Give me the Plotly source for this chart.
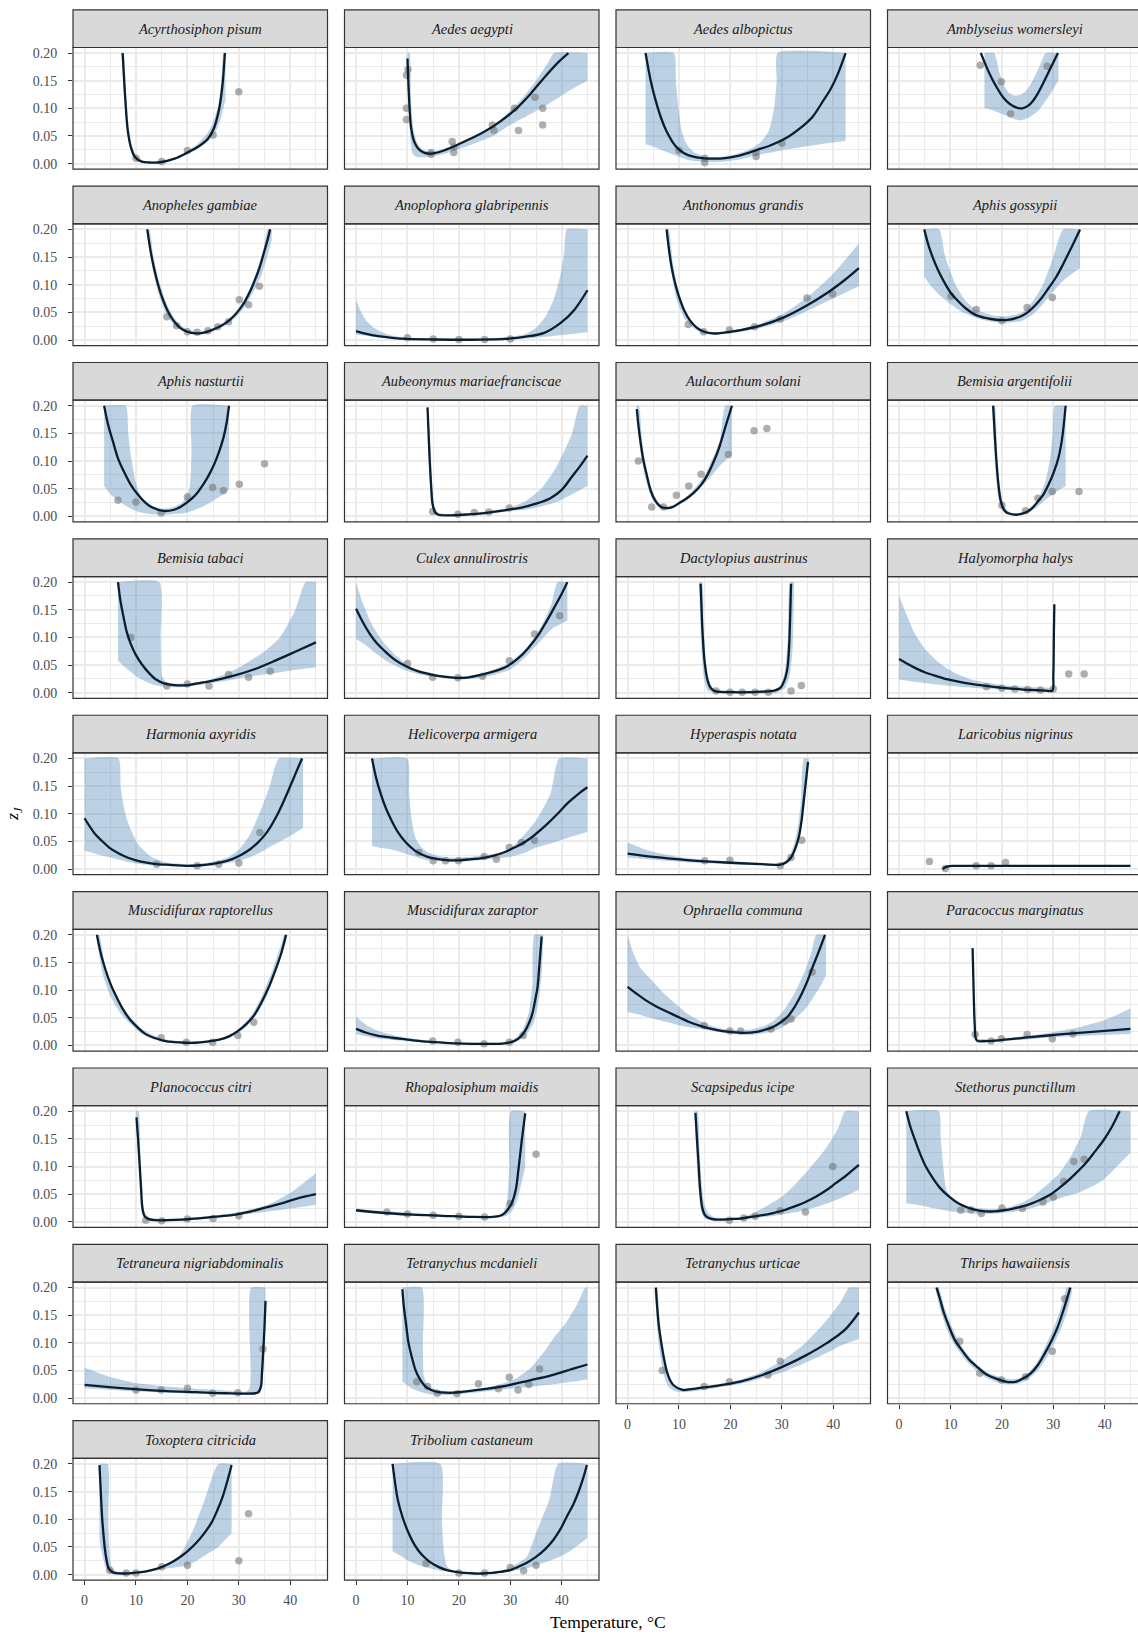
import plotly.graph_objects as go

# ---------------------------------------------------------------
# Species shown, one facet each (facet order = list order)
# ---------------------------------------------------------------
SPECIES = [
    "Acyrthosiphon pisum", "Aedes aegypti", "Aedes albopictus", "Amblyseius womersleyi",
    "Anopheles gambiae", "Anoplophora glabripennis", "Anthonomus grandis", "Aphis gossypii",
    "Aphis nasturtii", "Aubeonymus mariaefranciscae", "Aulacorthum solani", "Bemisia argentifolii",
    "Bemisia tabaci", "Culex annulirostris", "Dactylopius austrinus", "Halyomorpha halys",
    "Harmonia axyridis", "Helicoverpa armigera", "Hyperaspis notata", "Laricobius nigrinus",
    "Muscidifurax raptorellus", "Muscidifurax zaraptor", "Ophraella communa", "Paracoccus marginatus",
    "Planococcus citri", "Rhopalosiphum maidis", "Scapsipedus icipe", "Stethorus punctillum",
    "Tetraneura nigriabdominalis", "Tetranychus mcdanieli", "Tetranychus urticae", "Thrips hawaiiensis",
    "Toxoptera citricida", "Tribolium castaneum",
]

# Fitted z_J curve per species: (temperature, z_J), truncated at 0.2
CURVE = {
    "Acyrthosiphon pisum": [(7.4,0.2),(7.9,0.12),(8.4,0.06),(9.0,0.03),(9.8,0.012),(11,0.004),(13,0.002),(15,0.003),(17.5,0.009),(20,0.02),(22,0.03),(24,0.045),(25.2,0.065),(26.2,0.1),(26.8,0.14),(27.3,0.2)],
    "Aedes aegypti": [(10.0,0.19),(10.3,0.12),(10.7,0.065),(11.3,0.04),(12.1,0.027),(13.2,0.02),(14.5,0.018),(16.5,0.022),(19,0.031),(22,0.044),(25,0.058),(28,0.076),(31,0.098),(34,0.127),(37,0.16),(39.5,0.185),(41.3,0.2)],
    "Aedes albopictus": [(3.5,0.2),(4.5,0.15),(5.5,0.113),(6.5,0.083),(7.6,0.058),(8.7,0.04),(9.7,0.028),(11,0.019),(12.6,0.013),(14.5,0.01),(16.8,0.009),(19,0.01),(21,0.013),(23,0.018),(25.2,0.025),(27.5,0.032),(29.5,0.04),(31.5,0.05),(33.7,0.065),(36,0.085),(38,0.113),(39.5,0.135),(40.8,0.16),(42.4,0.2)],
    "Amblyseius womersleyi": [(15.9,0.2),(17,0.175),(18,0.155),(19,0.138),(20,0.123),(21,0.112),(22,0.105),(23,0.101),(24,0.1),(25,0.104),(26,0.113),(27,0.127),(28,0.145),(29,0.164),(30,0.183),(30.9,0.2)],
    "Anopheles gambiae": [(12.2,0.2),(12.8,0.163),(13.5,0.13),(14.3,0.1),(15.2,0.074),(16.2,0.052),(17.3,0.035),(18.6,0.022),(20,0.015),(21.6,0.012),(23,0.013),(24.5,0.017),(26,0.023),(27.5,0.031),(29,0.043),(30.1,0.055),(31.2,0.07),(32.2,0.088),(33.2,0.11),(34,0.13),(34.8,0.155),(35.5,0.178),(36.1,0.2)],
    "Anoplophora glabripennis": [(0,0.016),(2,0.011),(4.3,0.007),(7,0.004),(10,0.002),(15,0.001),(22,0.0005),(29,0.002),(33,0.006),(36.6,0.013),(39.8,0.031),(42.4,0.054),(45,0.09)],
    "Anthonomus grandis": [(7.6,0.2),(8.1,0.16),(8.7,0.125),(9.4,0.097),(10.2,0.073),(11.1,0.052),(12.1,0.036),(13.5,0.022),(14.9,0.015),(16.5,0.012),(17.7,0.012),(20,0.015),(22,0.018),(26.2,0.027),(30.4,0.041),(34.6,0.061),(38.8,0.085),(42.3,0.109),(45,0.13)],
    "Aphis gossypii": [(4.9,0.2),(5.7,0.172),(6.6,0.148),(7.6,0.126),(8.7,0.106),(10,0.086),(11.5,0.07),(13,0.057),(15,0.045),(17.9,0.038),(20.7,0.036),(23.5,0.042),(25,0.05),(26.3,0.061),(27.8,0.077),(29.1,0.094),(30.5,0.113),(31.9,0.137),(33.5,0.167),(35.2,0.2)],
    "Aphis nasturtii": [(3.8,0.2),(4.6,0.165),(5.5,0.136),(6.5,0.105),(7.6,0.082),(9,0.057),(10.4,0.039),(11.8,0.025),(13.2,0.016),(15.3,0.01),(17.4,0.012),(18.8,0.018),(20.2,0.027),(21.7,0.04),(23.1,0.058),(24.2,0.075),(25.2,0.094),(26.2,0.118),(27,0.142),(27.6,0.168),(28.1,0.2)],
    "Aubeonymus mariaefranciscae": [(13.9,0.197),(14.1,0.15),(14.3,0.106),(14.6,0.055),(14.9,0.021),(15.4,0.007),(16,0.003),(18,0.002),(21,0.003),(24,0.005),(26.6,0.008),(29.5,0.012),(32.2,0.016),(35,0.023),(37.8,0.033),(40,0.048),(42,0.072),(43.5,0.09),(45,0.11)],
    "Aulacorthum solani": [(1.8,0.194),(2.1,0.165),(2.5,0.136),(3.0,0.105),(3.7,0.076),(4.4,0.05),(5.1,0.033),(6.5,0.017),(7.9,0.015),(9,0.018),(10,0.024),(11.4,0.032),(12.8,0.042),(14.3,0.057),(15.6,0.076),(16.8,0.1),(17.8,0.124),(18.5,0.145),(19.2,0.167),(20.3,0.2)],
    "Bemisia argentifolii": [(18.3,0.2),(18.6,0.15),(18.9,0.106),(19.3,0.06),(19.8,0.027),(20.4,0.012),(21.1,0.006),(22.8,0.003),(24,0.005),(25,0.009),(26,0.016),(27,0.027),(28.1,0.04),(29.1,0.058),(30.1,0.08),(31,0.106),(31.7,0.14),(32.4,0.2)],
    "Bemisia tabaci": [(6.5,0.2),(7,0.165),(7.6,0.136),(8.2,0.11),(9,0.088),(10,0.068),(11.1,0.052),(12.5,0.036),(13.9,0.024),(15.5,0.017),(17.4,0.014),(20.2,0.014),(22,0.017),(24.5,0.021),(28.7,0.03),(32.9,0.042),(37.1,0.058),(41.4,0.076),(45,0.091)],
    "Culex annulirostris": [(0,0.152),(1.3,0.128),(2.7,0.106),(4,0.09),(5.5,0.076),(7.5,0.06),(9.7,0.048),(12,0.039),(14.6,0.033),(17,0.029),(19.5,0.027),(22,0.028),(24.5,0.033),(27,0.039),(29.4,0.048),(31.5,0.062),(33.6,0.082),(35.5,0.105),(37.1,0.13),(38.6,0.155),(40,0.179),(41.1,0.2)],
    "Dactylopius austrinus": [(14.2,0.197),(14.4,0.15),(14.6,0.106),(15.0,0.055),(15.6,0.021),(16.2,0.008),(17,0.003),(20.5,0.001),(26.2,0.002),(28.5,0.004),(29.7,0.009),(30.5,0.022),(31.1,0.045),(31.4,0.08),(31.6,0.13),(31.8,0.197)],
    "Halyomorpha halys": [(0,0.061),(1.5,0.053),(3.1,0.045),(5,0.037),(7.3,0.03),(9.5,0.024),(11.5,0.02),(14,0.016),(17.2,0.012),(20,0.009),(22.8,0.007),(25.5,0.005),(28.4,0.004),(29.8,0.004),(30.0,0.03),(30.1,0.1),(30.2,0.16)],
    "Harmonia axyridis": [(0,0.092),(2,0.064),(3.5,0.05),(4.8,0.039),(6.5,0.029),(8.3,0.021),(10,0.016),(11.8,0.012),(14,0.009),(16,0.008),(20.2,0.006),(22.5,0.007),(24.5,0.009),(26.5,0.012),(28.7,0.018),(30.5,0.026),(32.2,0.036),(33.7,0.048),(35,0.061),(36.2,0.077),(37.3,0.095),(38.4,0.116),(39.5,0.139),(40.6,0.163),(41.6,0.185),(42.3,0.2)],
    "Helicoverpa armigera": [(3.1,0.2),(3.9,0.165),(4.8,0.136),(5.8,0.11),(6.9,0.088),(8.2,0.066),(9.7,0.048),(11.5,0.033),(13.9,0.022),(16,0.018),(18.1,0.016),(20,0.016),(22.4,0.018),(24.5,0.02),(26.6,0.024),(28.7,0.03),(30.8,0.039),(33,0.05),(35,0.064),(37,0.08),(39.2,0.1),(41,0.118),(42.1,0.127),(43.5,0.138),(45,0.148)],
    "Hyperaspis notata": [(0,0.028),(5,0.022),(12.1,0.016),(19.1,0.012),(26.2,0.009),(29.7,0.008),(30.8,0.012),(31.8,0.021),(32.6,0.037),(33.3,0.058),(33.8,0.085),(34.2,0.118),(34.7,0.16),(35.1,0.194)],
    "Laricobius nigrinus": [(8.5,0.0),(8.9,0.003),(9.5,0.005),(10.5,0.0058),(11.6,0.006),(15,0.006),(20,0.006),(30,0.006),(40,0.006),(45,0.006)],
    "Muscidifurax raptorellus": [(2.4,0.2),(3.2,0.165),(4.1,0.136),(5.1,0.11),(6.2,0.088),(7.5,0.065),(9,0.045),(10.4,0.032),(11.8,0.021),(13.5,0.014),(15.3,0.009),(17.5,0.006),(19.6,0.005),(21.5,0.005),(23.8,0.007),(26,0.01),(28,0.016),(29.8,0.026),(31.5,0.039),(33,0.055),(34.3,0.076),(35.8,0.105),(37.1,0.136),(38.2,0.165),(39.2,0.2)],
    "Muscidifurax zaraptor": [(0,0.03),(2,0.023),(4.1,0.018),(7,0.014),(9.7,0.011),(12.5,0.008),(15.3,0.006),(19,0.004),(22.4,0.003),(26,0.003),(28,0.003),(29.7,0.005),(30.8,0.008),(31.9,0.015),(32.9,0.027),(33.7,0.042),(34.3,0.058),(34.9,0.085),(35.3,0.106),(35.7,0.15),(36.1,0.197)],
    "Ophraella communa": [(0,0.106),(1.7,0.094),(3.5,0.082),(5.5,0.071),(7.7,0.061),(10,0.051),(12.1,0.042),(14,0.036),(16.3,0.03),(18.5,0.026),(20.5,0.024),(22.5,0.023),(24.7,0.024),(26.5,0.028),(28.2,0.033),(29.8,0.042),(31.1,0.052),(32.5,0.07),(33.9,0.094),(35,0.117),(36,0.142),(37.2,0.17),(38.4,0.2)],
    "Paracoccus marginatus": [(14.3,0.176),(14.5,0.1),(14.7,0.04),(14.95,0.012),(15.3,0.008),(17,0.008),(20,0.01),(25.6,0.015),(31.2,0.02),(36.9,0.024),(45,0.03)],
    "Planococcus citri": [(10.1,0.189),(10.4,0.15),(10.7,0.106),(11.0,0.06),(11.25,0.025),(11.7,0.01),(12.5,0.005),(14,0.003),(16,0.003),(19,0.004),(21.7,0.006),(25,0.009),(28.7,0.012),(32,0.018),(35.7,0.027),(38.5,0.034),(41.3,0.042),(45,0.05)],
    "Rhopalosiphum maidis": [(0,0.021),(5.5,0.016),(11.1,0.013),(16.7,0.011),(22.4,0.009),(26.6,0.009),(28,0.011),(28.9,0.016),(29.8,0.026),(30.5,0.039),(31.1,0.06),(31.5,0.088),(31.9,0.12),(32.2,0.145),(32.6,0.175),(32.9,0.196)],
    "Scapsipedus icipe": [(13.2,0.197),(13.5,0.15),(13.8,0.106),(14.1,0.06),(14.5,0.027),(15,0.013),(15.6,0.008),(16.5,0.005),(17.7,0.004),(20,0.005),(21.9,0.006),(24,0.009),(26.2,0.012),(28.3,0.016),(30.4,0.021),(32.5,0.028),(34.6,0.036),(36.7,0.046),(38.8,0.058),(40.5,0.07),(42.3,0.082),(43.6,0.092),(45,0.103)],
    "Stethorus punctillum": [(1.4,0.2),(2.2,0.172),(3.1,0.148),(4.1,0.123),(5.2,0.1),(6.5,0.08),(8,0.061),(9.8,0.045),(11.6,0.033),(13.3,0.026),(15.1,0.021),(16.8,0.019),(18.6,0.019),(20.4,0.021),(22.2,0.024),(24,0.028),(25.7,0.033),(27.5,0.04),(29.2,0.048),(31,0.06),(32.7,0.073),(34.5,0.089),(36.3,0.106),(38,0.126),(39.8,0.148),(41.4,0.172),(42.9,0.2)],
    "Tetraneura nigriabdominalis": [(0,0.024),(4.8,0.02),(10.4,0.016),(16,0.013),(21.7,0.011),(27.3,0.009),(33.2,0.009),(33.8,0.011),(34.3,0.021),(34.5,0.045),(34.7,0.076),(35.0,0.13),(35.2,0.176)],
    "Tetranychus mcdanieli": [(9.0,0.197),(9.3,0.165),(9.7,0.136),(10.2,0.1),(10.8,0.076),(11.6,0.05),(12.5,0.033),(13.5,0.021),(14.6,0.015),(16,0.011),(17.4,0.01),(19,0.01),(20.9,0.012),(25.2,0.017),(29.4,0.023),(33.6,0.032),(37.8,0.041),(42.1,0.053),(45,0.061)],
    "Tetranychus urticae": [(5.5,0.2),(5.8,0.16),(6.1,0.13),(6.5,0.104),(7.0,0.076),(7.6,0.05),(8.2,0.034),(9,0.023),(10.7,0.015),(12,0.016),(13.5,0.018),(17.7,0.023),(21.9,0.03),(26.2,0.042),(30.4,0.058),(34.6,0.077),(38.8,0.1),(42.3,0.124),(45,0.155)],
    "Thrips hawaiiensis": [(7.3,0.2),(8,0.178),(8.7,0.155),(9.7,0.13),(10.8,0.106),(12.2,0.087),(13.6,0.07),(15.4,0.055),(17.2,0.042),(19,0.035),(20.7,0.03),(21.8,0.029),(22.8,0.03),(24.2,0.036),(25.6,0.045),(27,0.06),(28.4,0.082),(29.7,0.105),(30.9,0.13),(32.1,0.163),(33.3,0.2)],
    "Toxoptera citricida": [(2.9,0.198),(3.15,0.15),(3.4,0.105),(3.7,0.07),(3.97,0.045),(4.3,0.025),(4.7,0.011),(5.2,0.006),(5.8,0.003),(7.9,0.002),(9.5,0.003),(11.4,0.005),(13,0.008),(14.8,0.013),(16.5,0.02),(18.3,0.03),(20,0.042),(21.7,0.057),(23.3,0.075),(24.7,0.094),(25.9,0.118),(26.9,0.142),(27.8,0.17),(28.6,0.198)],
    "Tribolium castaneum": [(7.1,0.2),(7.6,0.165),(8.1,0.136),(9,0.105),(9.9,0.082),(11,0.06),(12,0.045),(13,0.034),(14.2,0.024),(16,0.014),(17.7,0.008),(19.5,0.005),(21.1,0.003),(23,0.002),(24.6,0.002),(26.5,0.003),(28.1,0.005),(30,0.008),(31.5,0.014),(33.3,0.022),(35,0.032),(36.8,0.046),(38.4,0.063),(39.8,0.083),(41,0.105),(42.2,0.126),(43.2,0.148),(44.1,0.172),(44.9,0.198)],
}

# Lower edge of the uncertainty band
BAND_LO = {
    "Acyrthosiphon pisum": [(7.2,0.2),(7.7,0.12),(8.3,0.055),(9,0.027),(10,0.01),(12,0.002),(15,0.002),(18,0.009),(20,0.017),(22,0.027),(24,0.04),(25.5,0.058),(26.5,0.082),(27.4,0.115)],
    "Aedes aegypti": [(10.0,0.19),(10.3,0.09),(10.6,0.04),(11.0,0.018),(11.8,0.012),(14,0.012),(17,0.017),(20,0.026),(24,0.04),(27,0.052),(30,0.07),(33,0.085),(36,0.1),(39,0.117),(42,0.135),(45,0.15)],
    "Aedes albopictus": [(3.5,0.035),(6,0.027),(9,0.016),(12,0.006),(15,0.003),(18,0.003),(22,0.008),(26,0.017),(30,0.024),(34,0.03),(38,0.036),(42.4,0.041)],
    "Amblyseius womersleyi": [(16.6,0.1),(18,0.097),(20,0.09),(22,0.082),(23.5,0.078),(25,0.082),(27,0.095),(29,0.12),(31,0.15)],
    "Anopheles gambiae": [(12.0,0.2),(13.3,0.125),(14.5,0.08),(15.6,0.053),(16.8,0.034),(18,0.022),(19.5,0.014),(21,0.011),(23,0.011),(25,0.016),(27,0.025),(29,0.038),(31,0.058),(33,0.09),(34.5,0.12),(35.5,0.15),(36.4,0.18)],
    "Anoplophora glabripennis": [(0,0.01),(5,0.004),(10,0.001),(20,0.0),(30,0.001),(35,0.004),(40,0.009),(45,0.014)],
    "Anthonomus grandis": [(7.5,0.2),(8.3,0.135),(9.5,0.075),(11,0.04),(12.5,0.024),(14.5,0.012),(17,0.01),(20,0.012),(25,0.02),(30,0.033),(35,0.053),(40,0.075),(45,0.097)],
    "Aphis gossypii": [(4.9,0.115),(6,0.1),(8,0.08),(10,0.065),(12,0.052),(15,0.04),(18,0.033),(21,0.031),(24,0.035),(26,0.046),(28,0.065),(30,0.088),(32,0.108),(35.2,0.13)],
    "Aphis nasturtii": [(3.8,0.055),(5,0.04),(7,0.025),(9,0.014),(11,0.007),(13,0.004),(15,0.003),(17,0.004),(19,0.005),(21,0.01),(23,0.018),(25,0.028),(27,0.04),(28.1,0.048)],
    "Aubeonymus mariaefranciscae": [(13.8,0.197),(14.2,0.1),(14.6,0.03),(15.2,0.005),(17,0.001),(25,0.004),(30,0.01),(33,0.012),(36,0.018),(39,0.026),(42,0.04),(45,0.055)],
    "Aulacorthum solani": [(1.7,0.2),(2.3,0.13),(3.2,0.08),(4.3,0.042),(5.5,0.022),(7,0.013),(8.5,0.014),(10,0.02),(12,0.033),(14,0.05),(16,0.07),(18,0.092),(20.3,0.112)],
    "Bemisia argentifolii": [(18.1,0.2),(18.6,0.1),(19.2,0.04),(20,0.012),(21,0.004),(23,0.002),(25,0.006),(27,0.018),(28.5,0.03),(30,0.04),(31.2,0.048),(32.4,0.055)],
    "Bemisia tabaci": [(6.5,0.058),(8,0.045),(10,0.03),(12,0.02),(14,0.013),(17,0.01),(20,0.011),(25,0.018),(30,0.026),(35,0.033),(40,0.04),(45,0.046)],
    "Culex annulirostris": [(0,0.097),(2,0.085),(4,0.07),(6,0.057),(9,0.043),(12,0.034),(15,0.029),(20,0.024),(25,0.028),(30,0.042),(33,0.065),(36,0.095),(38,0.115),(41.1,0.13)],
    "Dactylopius austrinus": [(13.9,0.2),(14.3,0.09),(14.8,0.03),(15.5,0.005),(17,0.0),(29,0.0),(30.7,0.01),(31.6,0.035),(32.1,0.08),(32.4,0.2)],
    "Halyomorpha halys": [(0,0.024),(3,0.02),(7.3,0.015),(12,0.011),(17.2,0.007),(23,0.005),(29.8,0.003)],
    "Harmonia axyridis": [(0,0.033),(2.5,0.027),(5,0.021),(8,0.014),(11,0.009),(15,0.006),(20,0.004),(25,0.006),(28,0.011),(30,0.015),(32,0.021),(34,0.029),(36,0.04),(38,0.05),(40,0.06),(42.5,0.075)],
    "Helicoverpa armigera": [(3.1,0.042),(5,0.038),(7,0.035),(9,0.03),(11,0.024),(13,0.018),(15,0.015),(18,0.013),(21,0.014),(24,0.016),(27,0.019),(30,0.022),(33,0.03),(35,0.039),(38,0.047),(41,0.056),(45,0.067)],
    "Hyperaspis notata": [(0,0.021),(5,0.017),(12,0.012),(19,0.009),(26,0.007),(29.7,0.006),(31.2,0.012),(32.3,0.025),(33.2,0.045),(34,0.085),(34.6,0.13),(35.3,0.2)],
    "Laricobius nigrinus": [(8.5,0.0),(10,0.004),(12,0.005),(45,0.005)],
    "Muscidifurax raptorellus": [(2.2,0.2),(3.5,0.13),(5,0.09),(7,0.058),(9,0.038),(11,0.022),(13,0.012),(16,0.006),(20,0.003),(24,0.005),(28,0.013),(31,0.03),(33.5,0.057),(35.5,0.09),(37.5,0.14),(39.4,0.2)],
    "Muscidifurax zaraptor": [(0,0.021),(4,0.013),(9.7,0.008),(15,0.004),(22,0.002),(28,0.002),(31,0.006),(33,0.018),(34.5,0.04),(35.5,0.08),(36.1,0.13),(36.4,0.2)],
    "Ophraella communa": [(0,0.061),(3,0.054),(6,0.046),(9,0.039),(12,0.033),(15,0.029),(18,0.024),(21,0.02),(24,0.019),(27,0.023),(29.5,0.03),(31.5,0.04),(33,0.052),(34.4,0.064),(36,0.085),(37.5,0.107),(38.6,0.127)],
    "Paracoccus marginatus": [(14.9,0.008),(20,0.008),(25,0.011),(30,0.015),(37,0.018),(45,0.021)],
    "Planococcus citri": [(10.0,0.2),(10.4,0.12),(10.8,0.05),(11.2,0.015),(12,0.003),(15,0.001),(20,0.003),(25,0.007),(30,0.012),(35,0.018),(40,0.024),(45,0.031)],
    "Rhopalosiphum maidis": [(0,0.018),(10,0.011),(20,0.008),(27,0.007),(29,0.01),(30.5,0.022),(31.5,0.045),(32.3,0.075),(32.9,0.1)],
    "Scapsipedus icipe": [(13.0,0.2),(13.4,0.12),(13.8,0.06),(14.3,0.02),(15,0.006),(16.5,0.002),(20,0.002),(25,0.007),(30,0.013),(34.6,0.021),(38.8,0.033),(42,0.045),(45,0.058)],
    "Stethorus punctillum": [(1.4,0.033),(4,0.03),(7,0.024),(10,0.019),(13,0.016),(16,0.014),(20,0.016),(23,0.019),(26,0.025),(29,0.035),(32,0.045),(35,0.053),(38,0.066),(40,0.078),(42.9,0.105),(45,0.125)],
    "Tetraneura nigriabdominalis": [(0,0.018),(5,0.015),(10.4,0.012),(16,0.01),(21.7,0.008),(27.3,0.007),(33,0.006),(34.2,0.01),(34.8,0.05),(35.2,0.15)],
    "Tetranychus mcdanieli": [(9.0,0.03),(10.5,0.02),(12,0.013),(13.5,0.009),(15.5,0.006),(18,0.006),(22,0.009),(26,0.013),(30,0.017),(34,0.021),(38,0.025),(42,0.03),(45,0.034)],
    "Tetranychus urticae": [(5.3,0.2),(5.8,0.12),(6.4,0.075),(7.1,0.04),(8,0.02),(9.5,0.012),(11,0.011),(14,0.014),(18,0.02),(22,0.026),(26.2,0.036),(30.4,0.048),(34.6,0.064),(38.8,0.082),(42,0.097),(45,0.107)],
    "Thrips hawaiiensis": [(7.0,0.2),(8,0.16),(9.5,0.12),(11,0.093),(13,0.068),(15,0.05),(17,0.037),(19,0.029),(21,0.025),(23,0.026),(25,0.034),(27,0.05),(28.5,0.07),(30,0.096),(31.5,0.125),(32.8,0.16),(33.6,0.19)],
    "Toxoptera citricida": [(2.9,0.06),(3.5,0.035),(4,0.015),(4.6,0.004),(5.5,0.001),(8,0.001),(12,0.004),(16,0.011),(20,0.017),(22,0.026),(24,0.038),(26,0.05),(28.6,0.075)],
    "Tribolium castaneum": [(7.1,0.042),(9,0.032),(10,0.026),(12.5,0.016),(15.9,0.008),(19,0.005),(22,0.002),(26,0.002),(30,0.006),(33,0.011),(35,0.017),(38,0.026),(40,0.034),(42,0.045),(45,0.066)],
}

# Upper edge of the uncertainty band (truncated at 0.2)
BAND_HI = {
    "Acyrthosiphon pisum": [(7.2,0.2),(7.6,0.2),(8.1,0.12),(8.6,0.065),(9.2,0.034),(10,0.015),(11.5,0.005),(13,0.003),(15,0.004),(18,0.012),(20,0.023),(22,0.036),(24,0.057),(25,0.075),(26,0.105),(26.6,0.15),(27.0,0.2),(27.4,0.2)],
    "Aedes aegypti": [(10.0,0.2),(10.4,0.2),(10.7,0.11),(11.2,0.06),(12,0.035),(13,0.025),(14.5,0.022),(17,0.026),(20,0.035),(23,0.048),(26,0.064),(29,0.087),(32,0.115),(35,0.15),(37.5,0.185),(38.5,0.2),(45,0.2)],
    "Aedes albopictus": [(3.5,0.2),(9.0,0.2),(9.4,0.15),(9.9,0.1),(10.5,0.06),(11.5,0.035),(13,0.02),(15,0.013),(18,0.012),(21,0.017),(24,0.027),(26,0.04),(27.5,0.06),(28.5,0.1),(29.0,0.15),(29.2,0.2),(42.4,0.2)],
    "Amblyseius womersleyi": [(16.6,0.2),(18.5,0.2),(19.5,0.165),(20.5,0.14),(21.5,0.127),(22.5,0.123),(23.5,0.124),(24.5,0.13),(25.5,0.142),(26.5,0.16),(27.5,0.18),(28.5,0.2),(31,0.2)],
    "Anopheles gambiae": [(12.0,0.2),(12.6,0.2),(13.4,0.15),(14.4,0.11),(15.4,0.08),(16.4,0.057),(17.5,0.039),(18.8,0.026),(20.3,0.018),(22,0.015),(24,0.017),(26,0.026),(28,0.038),(30,0.057),(32,0.09),(33.5,0.125),(34.8,0.165),(35.6,0.2),(36.4,0.2)],
    "Anoplophora glabripennis": [(0,0.073),(1,0.05),(2,0.035),(3.5,0.022),(5,0.014),(7,0.008),(10,0.004),(15,0.003),(20,0.002),(25,0.003),(30,0.006),(33,0.011),(35,0.022),(37,0.045),(38.5,0.075),(39.8,0.12),(40.5,0.16),(41,0.2),(45,0.2)],
    "Anthonomus grandis": [(7.5,0.2),(8.0,0.2),(8.8,0.14),(10,0.085),(11.5,0.048),(13,0.028),(15,0.017),(18,0.014),(21,0.018),(25,0.027),(30,0.046),(35,0.078),(40,0.12),(45,0.175)],
    "Aphis gossypii": [(4.9,0.2),(7.8,0.2),(9,0.15),(11,0.1),(13,0.07),(15,0.055),(18,0.045),(21,0.043),(24,0.05),(26,0.07),(28,0.1),(30,0.15),(31.9,0.2),(35.2,0.2)],
    "Aphis nasturtii": [(3.8,0.2),(8.0,0.2),(8.5,0.15),(9,0.11),(10,0.06),(11,0.035),(13,0.02),(15,0.014),(17,0.016),(19,0.025),(20.4,0.05),(20.8,0.12),(21,0.2),(28.1,0.2)],
    "Aubeonymus mariaefranciscae": [(13.8,0.197),(14.3,0.16),(14.7,0.08),(15.1,0.025),(15.8,0.008),(18,0.004),(25,0.009),(30,0.016),(33,0.028),(36,0.05),(39,0.09),(42,0.15),(43.5,0.2),(45,0.2)],
    "Aulacorthum solani": [(1.7,0.2),(2.2,0.2),(2.8,0.14),(3.6,0.09),(4.6,0.052),(6,0.025),(7.5,0.018),(9,0.021),(11,0.032),(13,0.05),(15,0.075),(16.8,0.11),(18,0.14),(19,0.2),(20.3,0.2)],
    "Bemisia argentifolii": [(18.1,0.2),(18.6,0.2),(19.1,0.1),(19.7,0.045),(20.5,0.018),(21.5,0.008),(23,0.005),(25,0.012),(26.5,0.024),(27.5,0.04),(28.5,0.065),(29.3,0.1),(29.9,0.15),(30.3,0.2),(32.4,0.2)],
    "Bemisia tabaci": [(6.5,0.2),(14.5,0.2),(14.8,0.1),(15.1,0.03),(16,0.018),(20,0.017),(25,0.025),(30,0.045),(35,0.075),(38,0.1),(41,0.15),(43,0.2),(45,0.2)],
    "Culex annulirostris": [(0,0.2),(1,0.17),(3,0.125),(5,0.095),(8,0.065),(11,0.045),(15,0.035),(20,0.029),(25,0.036),(30,0.055),(33,0.08),(36,0.12),(38,0.16),(39.2,0.2),(41.1,0.2)],
    "Dactylopius austrinus": [(13.9,0.2),(14.5,0.2),(14.8,0.12),(15.3,0.05),(16,0.018),(17,0.006),(20,0.004),(28.5,0.005),(29.8,0.014),(30.6,0.04),(31.2,0.1),(31.6,0.2),(32.4,0.2)],
    "Halyomorpha halys": [(0,0.176),(1.5,0.14),(3.1,0.106),(5,0.08),(7.3,0.058),(9.5,0.043),(11.5,0.033),(14,0.024),(17.2,0.018),(20,0.014),(22.8,0.012),(26,0.01),(29.8,0.009)],
    "Harmonia axyridis": [(0,0.2),(6.6,0.2),(7.0,0.15),(7.6,0.115),(8.3,0.088),(10.4,0.045),(13.2,0.021),(16,0.012),(20,0.009),(23,0.01),(26,0.016),(28,0.022),(30,0.035),(32,0.06),(34,0.1),(36,0.15),(37.8,0.2),(42.5,0.2)],
    "Helicoverpa armigera": [(3.1,0.2),(10.0,0.2),(10.3,0.14),(10.8,0.09),(11.5,0.058),(12.5,0.042),(14,0.03),(16,0.024),(18,0.021),(21,0.021),(24,0.024),(27,0.028),(29.5,0.034),(32,0.055),(35,0.088),(37.8,0.136),(39.5,0.2),(45,0.2)],
    "Hyperaspis notata": [(0,0.048),(3,0.037),(6,0.029),(10,0.022),(15,0.017),(20,0.014),(26,0.011),(29.5,0.01),(30.7,0.015),(31.6,0.026),(32.4,0.045),(33.1,0.075),(33.7,0.12),(34.3,0.2),(35.3,0.2)],
    "Laricobius nigrinus": [(8.5,0.001),(10,0.007),(12,0.007),(45,0.007)],
    "Muscidifurax raptorellus": [(2.2,0.2),(2.8,0.2),(4,0.145),(5.5,0.105),(7,0.077),(9,0.05),(11,0.031),(13,0.02),(15,0.012),(18,0.008),(21,0.007),(24,0.009),(27,0.015),(30,0.03),(32.5,0.055),(34.5,0.09),(36.5,0.135),(38.3,0.185),(38.8,0.2),(39.4,0.2)],
    "Muscidifurax zaraptor": [(0,0.052),(2,0.037),(4.1,0.027),(7,0.019),(9.7,0.014),(13,0.01),(17,0.007),(22,0.005),(27,0.005),(29.5,0.007),(31,0.013),(32.5,0.03),(33.6,0.06),(34.3,0.11),(34.7,0.2),(36.4,0.2)],
    "Ophraella communa": [(0,0.2),(1,0.17),(2.5,0.14),(4.7,0.118),(7,0.095),(9,0.078),(11,0.062),(13,0.05),(15,0.04),(18,0.031),(21,0.028),(24,0.029),(26.5,0.035),(28.5,0.045),(30.5,0.065),(32.5,0.095),(34.5,0.135),(35.8,0.17),(36.7,0.2),(38.6,0.2)],
    "Paracoccus marginatus": [(14.9,0.012),(20,0.012),(25,0.018),(30,0.024),(35,0.033),(40,0.046),(45,0.067)],
    "Planococcus citri": [(10.0,0.2),(10.5,0.2),(10.9,0.1),(11.3,0.04),(11.8,0.015),(12.8,0.007),(15,0.005),(20,0.007),(25,0.011),(30,0.018),(34.3,0.027),(37,0.037),(40,0.052),(42.5,0.07),(45,0.088)],
    "Rhopalosiphum maidis": [(0,0.024),(10,0.016),(20,0.012),(27,0.011),(28.5,0.015),(29.4,0.04),(29.8,0.1),(30.1,0.2),(32.9,0.2)],
    "Scapsipedus icipe": [(13.0,0.2),(13.6,0.2),(14.0,0.13),(14.5,0.06),(15,0.03),(15.8,0.015),(17,0.008),(20,0.007),(23,0.01),(26.2,0.024),(30.4,0.048),(34.6,0.088),(38.8,0.136),(41,0.17),(42.3,0.2),(45,0.2)],
    "Stethorus punctillum": [(1.4,0.2),(7.7,0.2),(8.1,0.15),(8.6,0.1),(9.2,0.058),(10.5,0.042),(12.5,0.03),(15,0.025),(18,0.023),(21,0.026),(24,0.035),(26,0.046),(28.5,0.065),(31.2,0.088),(33.5,0.12),(35.4,0.155),(36.9,0.2),(45,0.2)],
    "Tetraneura nigriabdominalis": [(0,0.055),(4.8,0.039),(10.4,0.027),(16,0.021),(21.7,0.017),(27.3,0.014),(31.5,0.012),(32.1,0.018),(32.3,0.05),(32.4,0.2),(35.2,0.2)],
    "Tetranychus mcdanieli": [(9.0,0.2),(12.8,0.2),(13.0,0.1),(13.2,0.04),(14,0.022),(16,0.015),(19,0.013),(22,0.015),(25,0.019),(28,0.025),(31,0.035),(34,0.055),(36.4,0.082),(38.5,0.11),(40.8,0.136),(43,0.17),(44.6,0.2),(45,0.2)],
    "Tetranychus urticae": [(5.3,0.2),(5.7,0.2),(6.3,0.13),(6.9,0.085),(7.6,0.05),(8.5,0.027),(10,0.018),(12,0.018),(15,0.021),(18,0.026),(22,0.034),(26.2,0.048),(30.4,0.07),(34.6,0.1),(38.8,0.142),(41.5,0.175),(43.1,0.2),(45,0.2)],
    "Thrips hawaiiensis": [(7.0,0.2),(7.7,0.2),(8.8,0.165),(10.2,0.13),(11.5,0.105),(13,0.083),(15,0.062),(17,0.048),(19,0.04),(21,0.035),(23,0.035),(25,0.045),(26.5,0.06),(28,0.085),(29.5,0.115),(30.8,0.145),(32,0.18),(32.6,0.2),(33.6,0.2)],
    "Toxoptera citricida": [(2.9,0.2),(4.5,0.2),(4.6,0.1),(4.8,0.05),(5.2,0.015),(6,0.007),(8,0.004),(12,0.007),(15,0.013),(18.3,0.032),(20.9,0.076),(23.4,0.136),(26,0.2),(28.6,0.2)],
    "Tribolium castaneum": [(7.1,0.2),(16.4,0.2),(16.7,0.1),(17.1,0.04),(17.7,0.015),(19,0.007),(22,0.004),(26,0.004),(28.5,0.008),(30.5,0.016),(33.2,0.032),(35,0.075),(37.6,0.136),(39.3,0.2),(45,0.2)],
}

# Observed values per species: (temperature, z_J)
OBS = {
    "Acyrthosiphon pisum": [(10,0.010),(15,0.004),(20,0.024),(25,0.052),(30,0.13)],
    "Aedes aegypti": [(10.1,0.17),(9.8,0.16),(9.8,0.10),(9.8,0.08),(14.6,0.02),(14.6,0.017),(18.7,0.04),(19,0.03),(19,0.02),(26.5,0.07),(26.8,0.06),(30.8,0.1),(31.6,0.06),(34.8,0.12),(36.3,0.1),(36.3,0.07)],
    "Aedes albopictus": [(10,0.024),(15,0.01),(15,0.002),(25,0.02),(25,0.013),(30,0.037)],
    "Amblyseius womersleyi": [(15.8,0.178),(19.9,0.148),(21.7,0.09),(28.8,0.176)],
    "Anopheles gambiae": [(16,0.042),(17.9,0.026),(20,0.015),(21.9,0.014),(24,0.017),(25.9,0.024),(28,0.033),(30.1,0.073),(31.9,0.064),(34,0.097)],
    "Anoplophora glabripennis": [(10,0.004),(15,0.002),(20,0.001),(25,0.001),(30,0.002)],
    "Anthonomus grandis": [(11.8,0.028),(14.8,0.015),(19.8,0.018),(24.7,0.024),(29.7,0.038),(34.9,0.076),(39.9,0.083)],
    "Aphis gossypii": [(10.1,0.079),(15,0.055),(20,0.035),(24.9,0.059),(29.8,0.077)],
    "Aphis nasturtii": [(6.5,0.029),(10,0.026),(14.9,0.006),(20,0.035),(24.9,0.052),(27,0.047),(30.1,0.058),(35,0.095)],
    "Aubeonymus mariaefranciscae": [(14.9,0.009),(19.8,0.004),(23,0.007),(25.8,0.008),(29.8,0.015)],
    "Aulacorthum solani": [(2.1,0.1),(4.7,0.017),(7,0.017),(9.5,0.038),(11.9,0.055),(14.3,0.076),(19.6,0.112),(24.6,0.155),(27.1,0.159)],
    "Bemisia argentifolii": [(20,0.02),(24.6,0.01),(27,0.033),(29.8,0.045),(35,0.045)],
    "Bemisia tabaci": [(9,0.1),(16,0.012),(20,0.016),(24.2,0.012),(28,0.033),(31.9,0.028),(36.1,0.039)],
    "Culex annulirostris": [(10,0.053),(14.9,0.028),(19.8,0.027),(24.6,0.03),(29.8,0.058),(34.7,0.106),(39.6,0.139)],
    "Dactylopius austrinus": [(17.2,0.003),(19.9,0.001),(22.3,0.001),(24.8,0.001),(27.4,0.001),(31.8,0.003),(33.8,0.013)],
    "Halyomorpha halys": [(17,0.011),(20,0.008),(22.5,0.007),(25,0.006),(27.5,0.005),(30,0.007),(33,0.034),(36,0.034)],
    "Harmonia axyridis": [(14,0.009),(21.9,0.006),(26.1,0.009),(30,0.011),(34.1,0.066)],
    "Helicoverpa armigera": [(12.2,0.03),(15,0.015),(17.4,0.015),(19.9,0.015),(24.9,0.023),(27.3,0.018),(29.8,0.039),(32.2,0.048),(34.7,0.052)],
    "Hyperaspis notata": [(15,0.015),(19.9,0.016),(29.7,0.006),(31.8,0.021),(33.9,0.052)],
    "Laricobius nigrinus": [(5.9,0.014),(9,0.001),(15,0.006),(17.9,0.006),(20.7,0.012)],
    "Muscidifurax raptorellus": [(14.9,0.014),(19.8,0.006),(24.9,0.006),(29.8,0.018),(32.9,0.042)],
    "Muscidifurax zaraptor": [(14.9,0.008),(19.8,0.006),(24.9,0.003),(29.8,0.006),(32.5,0.018)],
    "Ophraella communa": [(14.9,0.036),(19.9,0.026),(22,0.026),(27.9,0.03),(30.5,0.044),(31.8,0.048),(35.9,0.133)],
    "Paracoccus marginatus": [(14.8,0.02),(17.9,0.008),(19.9,0.012),(24.9,0.02),(29.8,0.012),(33.8,0.021)],
    "Planococcus citri": [(11.9,0.003),(15,0.002),(20,0.005),(25,0.006),(30,0.011)],
    "Rhopalosiphum maidis": [(6,0.018),(10,0.014),(15,0.012),(20,0.01),(25,0.009),(30,0.033),(35,0.122)],
    "Scapsipedus icipe": [(19.8,0.003),(22.6,0.007),(24.8,0.01),(29.7,0.02),(34.6,0.018),(39.9,0.1)],
    "Stethorus punctillum": [(12,0.021),(14,0.022),(16,0.015),(20,0.025),(24,0.024),(28,0.036),(30,0.045),(32,0.073),(34,0.109),(36,0.113)],
    "Tetraneura nigriabdominalis": [(10,0.015),(14.9,0.015),(20,0.018),(24.9,0.009),(29.8,0.01),(34.7,0.089)],
    "Tetranychus mcdanieli": [(11.8,0.03),(13.9,0.021),(15.8,0.009),(19.6,0.008),(23.8,0.026),(27.7,0.017),(29.8,0.038),(31.5,0.015),(33.6,0.025),(35.7,0.053)],
    "Tetranychus urticae": [(6.75,0.05),(14.9,0.021),(19.8,0.03),(27.3,0.042),(29.7,0.067)],
    "Thrips hawaiiensis": [(11.8,0.103),(15.7,0.045),(19.9,0.033),(24.6,0.039),(29.8,0.085),(32.2,0.18)],
    "Toxoptera citricida": [(4.9,0.008),(8.1,0.003),(10,0.003),(15,0.014),(20,0.017),(30,0.025),(31.9,0.11)],
    "Tribolium castaneum": [(13.6,0.02),(20,0.003),(25,0.003),(30,0.013),(32.6,0.007),(35,0.017)],
}

X_TICKS = [0, 10, 20, 30, 40]
X_MINOR = [5, 15, 25, 35, 45]
Y_TICKS = [0.00, 0.05, 0.10, 0.15, 0.20]
Y_TICK_TEXT = ["0.00", "0.05", "0.10", "0.15", "0.20"]
Y_MINOR = [0.025, 0.075, 0.125, 0.175]

# ---------------------------------------------------------------
# Page geometry (pixels)
# ---------------------------------------------------------------
W, H = 1138, 1636
N_COL = 4
COL_LEFT = [73.0, 344.5, 616.0, 887.5]
PANEL_W = 254.5
ROW_PITCH = 176.8
STRIP_TOP0 = 7.8
STRIP_H = 37.8
PANEL_H = 122.0
X_LO, X_HI = -2.25, 47.25
PX_PER_DEG = PANEL_W / (X_HI - X_LO)
Y_RANGE = [-0.01, 0.21]

SERIF = "Liberation Serif, Times New Roman, serif"
GRID = "#EBEBEB"
DARK = "#333333"
BAND_FILL = "rgba(70,130,180,0.36)"
CURVE_COLOR = "#0A1E30"
POINT_COLOR = "rgba(120,120,120,0.6)"
CURVE_SMOOTH = 0.95
BAND_SMOOTH = 0.55

n_rows = (len(SPECIES) + N_COL - 1) // N_COL
last_row_cols = len(SPECIES) - (n_rows - 1) * N_COL


def unzip(pairs):
    return [p[0] for p in pairs], [p[1] for p in pairs]


fig = go.Figure()
layout = {}
shapes = []
annotations = []

for i, sp in enumerate(SPECIES):
    r, c = divmod(i, N_COL)
    k = "" if i == 0 else str(i + 1)
    xref, yref = "x" + k, "y" + k

    left = COL_LEFT[c]
    right = left + PANEL_W
    vis_right = min(right, W)
    strip_top = STRIP_TOP0 + r * ROW_PITCH
    top = strip_top + STRIP_H
    bottom = top + PANEL_H

    show_x = (r == n_rows - 1) or (r == n_rows - 2 and c >= last_row_cols)
    show_y = c == 0

    layout["xaxis" + k] = dict(
        domain=[left / W, vis_right / W],
        range=[X_LO, X_LO + (vis_right - left) / PX_PER_DEG],
        anchor=yref,
        tickmode="array", tickvals=X_TICKS,
        showticklabels=show_x, ticklabelstandoff=3,
        ticks="outside" if show_x else "", ticklen=4, tickwidth=1.1, tickcolor=DARK,
        tickfont=dict(family=SERIF, size=14, color="#4D4D4D"),
        showgrid=True, gridcolor=GRID, gridwidth=2.0,
        minor=dict(tickmode="array", tickvals=X_MINOR, showgrid=True,
                   gridcolor=GRID, gridwidth=1.1, ticks=""),
        zeroline=False, showline=False, fixedrange=True,
    )
    layout["yaxis" + k] = dict(
        domain=[1 - bottom / H, 1 - top / H],
        range=Y_RANGE,
        anchor=xref,
        tickmode="array", tickvals=Y_TICKS, ticktext=Y_TICK_TEXT,
        showticklabels=show_y, ticklabelstandoff=8,
        ticks="outside" if show_y else "", ticklen=4, tickwidth=1.1, tickcolor=DARK,
        tickfont=dict(family=SERIF, size=14, color="#4D4D4D"),
        showgrid=True, gridcolor=GRID, gridwidth=2.0,
        minor=dict(tickmode="array", tickvals=Y_MINOR, showgrid=True,
                   gridcolor=GRID, gridwidth=1.1, ticks=""),
        zeroline=False, showline=False, fixedrange=True,
    )

    # uncertainty band: lower edge, then upper edge filled down to it
    lx, ly = unzip(BAND_LO[sp])
    hx, hy = unzip(BAND_HI[sp])
    fig.add_trace(go.Scatter(x=lx, y=ly, mode="lines", xaxis=xref, yaxis=yref,
                             line=dict(width=0, shape="spline", smoothing=BAND_SMOOTH),
                             hoverinfo="skip", showlegend=False))
    fig.add_trace(go.Scatter(x=hx, y=hy, mode="lines", xaxis=xref, yaxis=yref,
                             line=dict(width=0, shape="spline", smoothing=BAND_SMOOTH),
                             fill="tonexty", fillcolor=BAND_FILL,
                             hoverinfo="skip", showlegend=False))
    # observations
    ox, oy = unzip(OBS[sp])
    fig.add_trace(go.Scatter(x=ox, y=oy, mode="markers", xaxis=xref, yaxis=yref,
                             marker=dict(size=7.5, color=POINT_COLOR, line=dict(width=0)),
                             showlegend=False))
    # fitted curve
    cx, cy = unzip(CURVE[sp])
    fig.add_trace(go.Scatter(x=cx, y=cy, mode="lines", xaxis=xref, yaxis=yref,
                             line=dict(color=CURVE_COLOR, width=2.3, shape="spline", smoothing=CURVE_SMOOTH),
                             showlegend=False))

    # strip and panel frame
    shapes.append(dict(type="rect", xref="paper", yref="paper", layer="above",
                       x0=left / W, x1=right / W, y0=1 - top / H, y1=1 - strip_top / H,
                       fillcolor="#D9D9D9", line=dict(color=DARK, width=1.2)))
    shapes.append(dict(type="rect", xref="paper", yref="paper", layer="above",
                       x0=left / W, x1=right / W, y0=1 - bottom / H, y1=1 - top / H,
                       fillcolor="rgba(0,0,0,0)", line=dict(color=DARK, width=1.2)))
    annotations.append(dict(text="<i>" + sp + "</i>", xref="paper", yref="paper",
                            x=(left + right) / 2 / W, y=1 - (strip_top + top) / 2 / H,
                            xanchor="center", yanchor="middle", showarrow=False,
                            font=dict(family=SERIF, size=14.5, color="#1A1A1A")))

panels_top = STRIP_TOP0 + STRIP_H
panels_bottom = STRIP_TOP0 + (n_rows - 1) * ROW_PITCH + STRIP_H + PANEL_H

annotations.append(dict(text="Temperature, °C", xref="paper", yref="paper",
                        x=(COL_LEFT[0] + COL_LEFT[-1] + PANEL_W) / 2 / W, y=1 - 1624 / H,
                        xanchor="center", yanchor="middle", showarrow=False,
                        font=dict(family=SERIF, size=17.5, color="#000000")))
annotations.append(dict(text="<i>z</i><sub><i>J</i></sub>", xref="paper", yref="paper",
                        x=14 / W, y=1 - (panels_top + panels_bottom) / 2 / H,
                        xanchor="center", yanchor="middle", textangle=-90, showarrow=False,
                        font=dict(family=SERIF, size=17.5, color="#000000")))

fig.update_layout(
    width=W, height=H,
    margin=dict(l=0, r=0, t=0, b=0),
    paper_bgcolor="white", plot_bgcolor="white",
    showlegend=False,
    shapes=shapes, annotations=annotations,
    **layout,
)

fig.write_html("out.html", config={"displayModeBar": False})
